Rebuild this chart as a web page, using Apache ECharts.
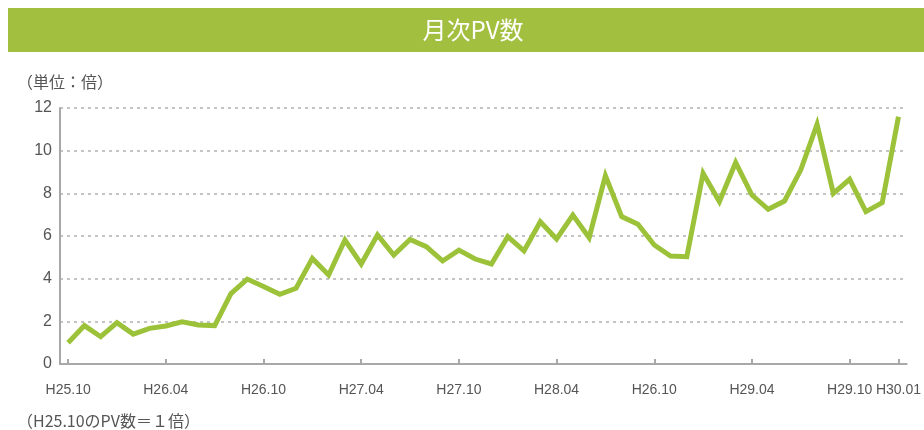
<!DOCTYPE html>
<html>
<head>
<meta charset="utf-8">
<script src="https://cdn.jsdelivr.net/npm/echarts@6/dist/echarts.min.js"></script>
<style>
html,body{margin:0;padding:0;background:#fff;}
#c{width:924px;height:430px;}
</style>
</head>
<body>
<div id="c"></div>
<script>
var months = [
  'H25.10','H25.11','H25.12','H26.01','H26.02','H26.03','H26.04','H26.05','H26.06','H26.07','H26.08','H26.09',
  'H26.10','H26.11','H26.12','H27.01','H27.02','H27.03','H27.04','H27.05','H27.06','H27.07','H27.08','H27.09',
  'H27.10','H27.11','H27.12','H28.01','H28.02','H28.03','H28.04','H28.05','H28.06','H28.07','H28.08','H28.09',
  'H28.10','H28.11','H28.12','H29.01','H29.02','H29.03','H29.04','H29.05','H29.06','H29.07','H29.08','H29.09',
  'H29.10','H29.11','H29.12','H30.01'
];
var pvRatio = [
  1.0, 1.8, 1.28, 1.94, 1.4, 1.67, 1.78, 1.98, 1.83, 1.8, 3.3, 3.98,
  3.63, 3.27, 3.55, 4.95, 4.17, 5.81, 4.69, 6.05, 5.11, 5.84, 5.5, 4.83,
  5.34, 4.92, 4.69, 5.97, 5.3, 6.67, 5.86, 6.98, 5.92, 8.83, 6.91, 6.55,
  5.58, 5.06, 5.03, 8.94, 7.61, 9.44, 7.92, 7.25, 7.64, 9.1, 11.24, 8.0,
  8.66, 7.14, 7.56, 11.59
];
// month shown on the axis -> label text as printed in the reference
var tickMonths = ['H25.10','H26.04','H26.10','H27.04','H27.10','H28.04','H28.10','H29.04','H29.10','H30.01'];
var tickLabels = ['H25.10','H26.04','H26.10','H27.04','H27.10','H28.04','H26.10','H29.04','H29.10','H30.01'];
var yTicks = [0, 2, 4, 6, 8, 10, 12];

var titleText = '月次PV数';
var unitText = '（単位：倍）';
var noteText = '（H25.10のPV数＝１倍）';

function isTick(idx, val) { return tickMonths.indexOf(val) >= 0; }

var chart = echarts.init(document.getElementById('c'), null, {renderer: 'canvas'});
chart.setOption({
  animation: false,
  backgroundColor: '#ffffff',
  graphic: [
    {type: 'rect', shape: {x: 8, y: 8, width: 916, height: 44}, style: {fill: '#a3bf40'}, silent: true},
    {type: 'text', x: 473, y: 30, style: {text: titleText, fill: '#ffffff', fontSize: 24,
      fontFamily: '"Noto Sans CJK JP", sans-serif', align: 'center', verticalAlign: 'middle'}},
    {type: 'text', x: 17, y: 82, style: {text: unitText, fill: '#555555', fontSize: 16,
      fontFamily: '"Noto Sans CJK JP", sans-serif', align: 'left', verticalAlign: 'middle'}},
    {type: 'text', x: 17, y: 421, style: {text: noteText, fill: '#555555', fontSize: 16,
      fontFamily: '"Noto Sans CJK JP", sans-serif', align: 'left', verticalAlign: 'middle'}}
  ],
  grid: {left: 60, right: 12, top: 108, bottom: 66, containLabel: false},
  xAxis: {
    type: 'category',
    data: months,
    boundaryGap: true,
    axisLine: {show: true, lineStyle: {color: '#a8a8a8', width: 2}},
    axisTick: {show: true, inside: true, length: 5, alignWithLabel: true, interval: isTick,
      lineStyle: {color: '#a8a8a8', width: 2}},
    axisLabel: {
      interval: isTick,
      showMaxLabel: true,
      showMinLabel: true,
      hideOverlap: false,
      margin: 19,
      color: '#555555',
      fontSize: 14,
      fontFamily: '"Liberation Sans", sans-serif',
      formatter: function (v) { var k = tickMonths.indexOf(v); return k >= 0 ? tickLabels[k] : ''; }
    },
    splitLine: {show: false}
  },
  yAxis: {
    type: 'value',
    min: 0, max: 12, interval: 2,
    axisLine: {show: true, lineStyle: {color: '#a8a8a8', width: 2}},
    axisTick: {show: false},
    axisLabel: {color: '#555555', fontSize: 16, margin: 8,
      fontFamily: '"Liberation Sans", sans-serif',
      formatter: function (v) { return yTicks.indexOf(v) >= 0 ? String(v) : ''; }},
    splitLine: {show: true, lineStyle: {color: '#c4c4c4', width: 2, type: [3, 4]}}
  },
  series: [{
    type: 'line',
    data: pvRatio,
    symbol: 'none',
    lineStyle: {color: '#9cc23a', width: 5, join: 'miter'},
    z: 5
  }]
});
</script>
</body>
</html>
